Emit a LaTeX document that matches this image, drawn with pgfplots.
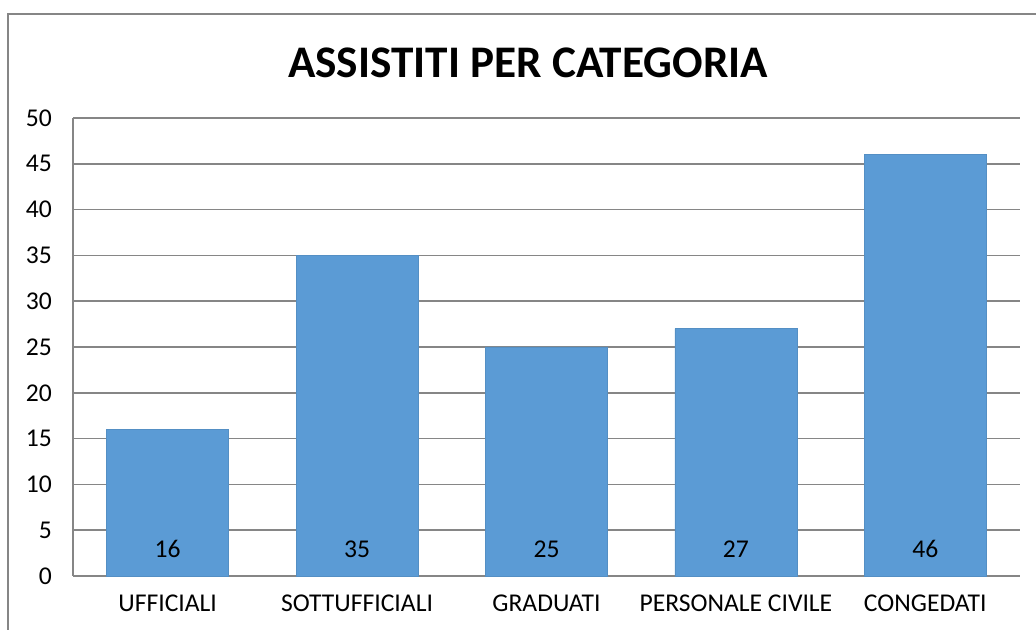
\documentclass[border=0pt]{standalone}
\usepackage{fontspec}
\setmainfont{Carlito}
\usepackage{pgfplots}
\pgfplotsset{compat=1.18}
\definecolor{barblue}{RGB}{91,155,213}
\definecolor{gridgray}{RGB}{134,134,134}

\begin{document}
\begin{tikzpicture}
% canvas 1036x630 px at 0.5pt per px
\path[use as bounding box] (0,0) rectangle (518pt,315pt);
\begin{scope}
\clip (0,0) rectangle (518pt,315pt);
\draw[gridgray, line width=1pt] (4pt,-10pt) -- (4pt,308pt) -- (530pt,308pt);
\end{scope}
\node[font=\bfseries\fontsize{22.6}{26}\selectfont] at (264pt,283.5pt) {ASSISTITI PER CATEGORIA};
\begin{axis}[
    at={(36.5pt,27pt)}, anchor=south west,
    scale only axis,
    width=473.5pt, height=229pt,
    xmin=-0.5, xmax=4.5,
    ymin=0, ymax=50,
    ytick={0,5,...,50},
    xtick={0,1,2,3,4},
    xticklabels={UFFICIALI, SOTTUFFICIALI, GRADUATI, PERSONALE CIVILE, CONGEDATI},
    axis lines*=left,
    axis line style={gridgray, line width=0.8pt},
    ymajorgrids,
    grid style={gridgray, line width=0.8pt},
    major tick length=0pt,
    tick style={draw=none},
    ticklabel style={font=\fontsize{12.8}{14}\selectfont},
    yticklabel style={xshift=-7pt},
    xticklabel style={yshift=-6pt},
    /pgf/number format/assume math mode=true,
    clip=false,
]
\addplot[ybar, bar width=61pt, fill=barblue, draw=barblue!92!black, line width=0.3pt]
    coordinates {(0,16) (1,35) (2,25) (3,27) (4,46)};
\addplot[draw=none, mark=none, nodes near coords, point meta=explicit,
    every node near coord/.append style={anchor=center, yshift=13.5pt,
      font=\fontsize{12.8}{14}\selectfont}]
    coordinates {(0,0)[16] (1,0)[35] (2,0)[25] (3,0)[27] (4,0)[46]};
\end{axis}
\end{tikzpicture}
\end{document}
